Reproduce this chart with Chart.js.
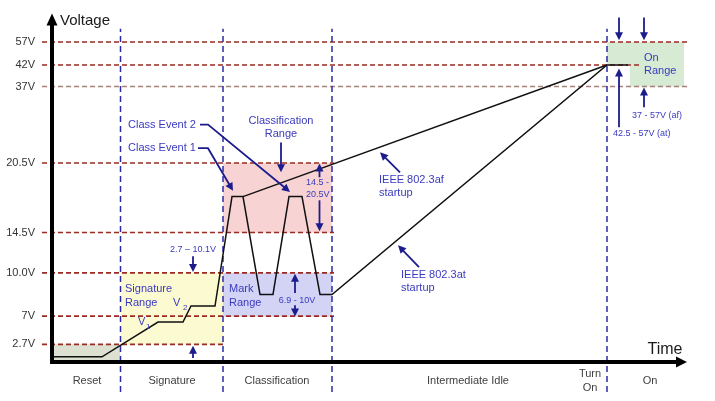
<!DOCTYPE html>
<html><head><meta charset="utf-8">
<script src="https://cdn.jsdelivr.net/npm/chart.js@4.4.1/dist/chart.umd.min.js"></script>
<style>html,body{margin:0;padding:0;background:#fff;}</style>
</head><body>
<canvas id="c" width="715" height="401"></canvas>
<script>
// ---------------- DATA ----------------
// phases along the time axis (arbitrary time units)
const phaseNames = ['Reset', 'Signature', 'Classification', 'Intermediate Idle', ['Turn', 'On'], 'On'];
const phaseLabelTimes = [7, 24, 45, 83.2, 107.6, 119.6];
const phaseBoundaries = [13.7, 34.2, 56, 111];

// voltage thresholds (tick labels)
const tickVolts = [2.7, 7, 10, 14.5, 20.5, 37, 42, 57];
const tickLabels = ['2.7V', '7V', '10.0V', '14.5V', '20.5V', '37V', '42V', '57V'];

// PD voltage waveform (reset -> signature -> classification -> 802.3at startup -> on)
const waveTime  = [0, 10, 21.2, 26.2, 27.8, 32.6, 36, 38.2, 41.6, 44.2, 47.4, 50, 53.6, 56, 111, 115.2];
const waveVolts = [0.8, 0.8, 6.1, 6.1, 7.7, 7.7, 17.6, 17.6, 8.5, 8.5, 17.6, 17.6, 8.5, 8.5, 42, 42];

// IEEE 802.3af startup branch
const afTime  = [38.2, 111];
const afVolts = [17.6, 42];

// shaded voltage ranges
const rangeNames = ['Reset', 'Signature Range', 'Classification Range', 'Mark Range', 'On Range', 'On Range (af)'];
const rangeStart = [0, 13.7, 34.2, 34.2, 111, 115.6];
const rangeEnd   = [13.7, 34.2, 56, 56, 126.4, 126.4];
const rangeLow   = [0, 2.7, 14.5, 6.9, 42, 37];
const rangeHigh  = [2.7, 10, 20.5, 10, 57, 42];

// dashed threshold reference lines
const refVolts = [57, 42, 37, 20.5, 14.5, 10, 7, 2.7];
const refEnd   = [127.6, 117.6, 127.6, 56.4, 56.4, 56.4, 56.4, 34.2];

// ---------------- STYLE / AXIS LAYOUT ----------------
const FONT = "'Liberation Sans', Arial, sans-serif";
const rangeColors = ['#dde1d1', '#fcfad0', '#f8d3d3', '#d3d3f6', '#d6ead4', '#d6ead4'];
const refColors = ['#9a2a22', '#9a2a22', '#a8807a', '#9a2a22', '#9a2a22', '#9a2a22', '#9a2a22', '#9a2a22'];
const BLUE_LINE = '#2b2ba8';
const NAVY = '#1c1c8c';
const TEXT_BLUE = '#3a3abf';

// non-linear (schematic) voltage axis
const axisVolts = [0, 2.7, 7, 10, 14.5, 20.5, 37, 42, 57, 60];
const axisFrac  = [0, 0.0507, 0.1318, 0.2559, 0.3716, 0.5711, 0.7908, 0.8524, 0.9183, 1];
function toFrac(v) {
  let i = 0;
  if (v <= axisVolts[0]) i = 0;
  else if (v >= axisVolts[axisVolts.length - 1]) i = axisVolts.length - 2;
  else { while (v > axisVolts[i + 1]) i++; }
  const a = axisVolts[i], b = axisVolts[i + 1];
  return axisFrac[i] + (v - a) / (b - a) * (axisFrac[i + 1] - axisFrac[i]);
}
function fromFrac(f) {
  let i = 0;
  if (f <= 0) i = 0; else if (f >= 1) i = axisFrac.length - 2;
  else { while (f > axisFrac[i + 1]) i++; }
  return axisVolts[i] + (f - axisFrac[i]) / (axisFrac[i + 1] - axisFrac[i]) * (axisVolts[i + 1] - axisVolts[i]);
}
class PiecewiseScale extends Chart.LinearScale {
  getPixelForValue(value) { return this.getPixelForDecimal(toFrac(value)); }
  getValueForPixel(pixel) { return fromFrac(this.getDecimalForPixel(pixel)); }
}
PiecewiseScale.id = 'piecewise';
PiecewiseScale.defaults = Chart.LinearScale.defaults;
Chart.register(PiecewiseScale);

const pts = (xs, ys) => xs.map((x, i) => ({ x: x, y: ys[i] }));

const datasets = [];
datasets.push({ label: 'waveform', data: pts(waveTime, waveVolts), borderColor: '#111', borderWidth: 1.5, pointRadius: 0, fill: false, order: 1, tension: 0 });
datasets.push({ label: 'af startup', data: pts(afTime, afVolts), borderColor: '#111', borderWidth: 1.5, pointRadius: 0, fill: false, order: 1 });
phaseBoundaries.forEach(t => datasets.push({
  label: 'boundary', data: [{ x: t, y: -4.6 }, { x: t, y: 58.4 }], borderColor: BLUE_LINE, borderWidth: 1.5,
  borderDash: [6, 4], pointRadius: 0, fill: false, clip: false, order: 3
}));
refVolts.forEach((v, i) => datasets.push({
  label: 'ref ' + tickLabels[tickVolts.indexOf(v)], data: [{ x: -2, y: v }, { x: refEnd[i], y: v }], borderColor: refColors[i],
  borderWidth: i === 2 ? 1.3 : 1.6, borderDash: [5, 3], pointRadius: 0, fill: false, clip: false, order: 4
}));
rangeNames.forEach((n, i) => datasets.push({
  label: n, data: [{ x: rangeStart[i], y: rangeHigh[i] }, { x: rangeEnd[i], y: rangeHigh[i] }],
  borderWidth: 0, borderColor: 'rgba(0,0,0,0)', backgroundColor: rangeColors[i], pointRadius: 0,
  fill: { value: rangeLow[i] }, order: 5
}));

// ---------------- ANNOTATIONS (data coordinates: time, volts) ----------------
const arrows = [
  [[29.6, 28.8], [31.2, 28.8], [47.6, 18.0]],
  [[29.2, 23.7], [31.2, 23.7], [36.2, 18.1]],
  [[45.8, 24.95], [45.8, 19.7]],
  [[53.5, 19.27], [53.5, 20.47]], [[53.5, 17.28], [53.5, 14.61]],
  [[48.6, 8.6], [48.6, 9.93]], [[48.6, 7.76], [48.6, 6.95]],
  [[28.2, 11.86], [28.2, 10.1]], [[28.2, 0.6], [28.2, 2.5]],
  [[69.6, 19.7], [65.6, 22.8]],
  [[73.4, 10.63], [69.2, 13.08]],
  [[113.4, 59.6], [113.4, 57.2]], [[118.4, 59.6], [118.4, 57.2]],
  [[113.4, 28.2], [113.4, 41.2]], [[118.4, 32.5], [118.4, 36.8]]
];
const texts = [
  ['Class Event 2', 15.2, 28.8, 'left', 11], ['Class Event 1', 15.2, 23.7, 'left', 11],
  ['Classification', 45.8, 29.5, 'center', 11], ['Range', 45.8, 26.7, 'center', 11],
  ['Signature', 14.6, 8.87, 'left', 11], ['Range', 14.6, 7.9, 'left', 11],
  ['Mark', 35.4, 8.87, 'left', 11], ['Range', 35.4, 7.9, 'left', 11],
  ['IEEE 802.3af', 65.4, 19.0, 'left', 11], ['startup', 65.4, 17.9, 'left', 11],
  ['IEEE 802.3at', 69.8, 9.84, 'left', 11], ['startup', 69.8, 8.94, 'left', 11],
  ['On', 118.4, 46.9, 'left', 11], ['Range', 118.4, 40.5, 'left', 11],
  ['14.5 -', 50.8, 18.84, 'left', 9], ['20.5V', 50.8, 17.8, 'left', 9],
  ['6.9 - 10V', 49.0, 8.11, 'center', 9], ['2.7 \u2013 10.1V', 28.2, 12.64, 'center', 9],
  ['37 - 57V (af)', 116, 30.76, 'left', 9], ['42.5 - 57V (at)', 112.2, 26.9, 'left', 9],
  ['V', 17.2, 6.09, 'left', 11], ['1', 18.8, 5.33, 'left', 8],
  ['V', 24.2, 7.9, 'left', 11], ['2', 26.2, 7.55, 'left', 8]
];

function drawArrow(ctx, p, L, W) {
  const n = p.length;
  const [x1, y1] = p[n - 2], [x2, y2] = p[n - 1];
  const a = Math.atan2(y2 - y1, x2 - x1), c = Math.cos(a), s = Math.sin(a);
  ctx.beginPath();
  ctx.moveTo(p[0][0], p[0][1]);
  for (let i = 1; i < n - 1; i++) ctx.lineTo(p[i][0], p[i][1]);
  ctx.lineTo(x2 - (L - 1) * c, y2 - (L - 1) * s);
  ctx.stroke();
  ctx.beginPath();
  ctx.moveTo(x2, y2);
  ctx.lineTo(x2 - L * c + W * s, y2 - L * s - W * c);
  ctx.lineTo(x2 - L * c - W * s, y2 - L * s + W * c);
  ctx.closePath();
  ctx.fill();
}

const annotationPlugin = {
  id: 'annotations',
  afterDatasetsDraw(chart) {
    const ctx = chart.ctx, xs = chart.scales.x, ys = chart.scales.y;
    const X = t => xs.getPixelForValue(t), Y = v => ys.getPixelForValue(v);
    ctx.save();
    // arrows
    ctx.strokeStyle = NAVY; ctx.fillStyle = NAVY; ctx.lineWidth = 1.8; ctx.lineJoin = 'miter';
    arrows.forEach(a => drawArrow(ctx, a.map(q => [X(q[0]), Y(q[1])]), 8, 4));
    // texts
    ctx.fillStyle = TEXT_BLUE; ctx.textBaseline = 'middle';
    texts.forEach(([s, t, v, al, sz]) => {
      ctx.font = sz + 'px ' + FONT; ctx.textAlign = al; ctx.fillText(s, X(t), Y(v));
    });
    // axes
    const x0 = X(0), y0 = Y(0), yTop = Y(60), xEnd = X(127);
    ctx.fillStyle = '#000'; ctx.strokeStyle = '#000'; ctx.lineWidth = 4; ctx.lineCap = 'butt';
    ctx.beginPath(); ctx.moveTo(x0, y0 + 2); ctx.lineTo(x0, yTop + 10); ctx.stroke();
    ctx.beginPath(); ctx.moveTo(x0, yTop); ctx.lineTo(x0 - 5.5, yTop + 12); ctx.lineTo(x0 + 5.5, yTop + 12); ctx.closePath(); ctx.fill();
    ctx.beginPath(); ctx.moveTo(x0 - 2, y0); ctx.lineTo(xEnd - 8, y0); ctx.stroke();
    ctx.beginPath(); ctx.moveTo(xEnd, y0); ctx.lineTo(xEnd - 11, y0 - 5.5); ctx.lineTo(xEnd - 11, y0 + 5.5); ctx.closePath(); ctx.fill();
    // axis titles
    ctx.fillStyle = '#1a1a1a'; ctx.textAlign = 'left'; ctx.textBaseline = 'middle';
    ctx.font = '15px ' + FONT; ctx.fillText('Voltage', X(1.6), Y(59.26));
    ctx.textAlign = 'center'; ctx.font = '16px ' + FONT; ctx.fillText('Time', X(122.6), Y(1.83));
    ctx.restore();
  }
};

new Chart(document.getElementById('c'), {
  type: 'line',
  data: { datasets: datasets },
  options: {
    responsive: false, animation: false, devicePixelRatio: 1,
    layout: { padding: { left: 0, right: 13, top: 13, bottom: 0 } },
    plugins: { legend: { display: false }, tooltip: { enabled: false } },
    elements: { line: { tension: 0 } },
    scales: {
      x: {
        type: 'linear', min: -2, max: 130,
        grid: { display: false, drawTicks: false }, border: { display: false },
        afterBuildTicks: s => { s.ticks = phaseLabelTimes.map(v => ({ value: v })); },
        afterFit: s => { s.height = 39; },
        ticks: { autoSkip: false, maxRotation: 0, minRotation: 0, padding: 12, crossAlign: 'center', color: '#404040',
          font: { family: FONT, size: 11, lineHeight: 1.3 }, callback: (v, i) => phaseNames[i] }
      },
      y: {
        type: 'piecewise', min: 0, max: 60,
        grid: { display: false, drawTicks: false }, border: { display: false },
        afterBuildTicks: s => { s.ticks = tickVolts.map(v => ({ value: v })); },
        afterFit: s => { s.width = 42; },
        ticks: { autoSkip: false, padding: 7, color: '#333', font: { family: FONT, size: 11 },
          callback: (v, i) => tickLabels[i] }
      }
    }
  },
  plugins: [annotationPlugin]
});
</script>
</body></html>
